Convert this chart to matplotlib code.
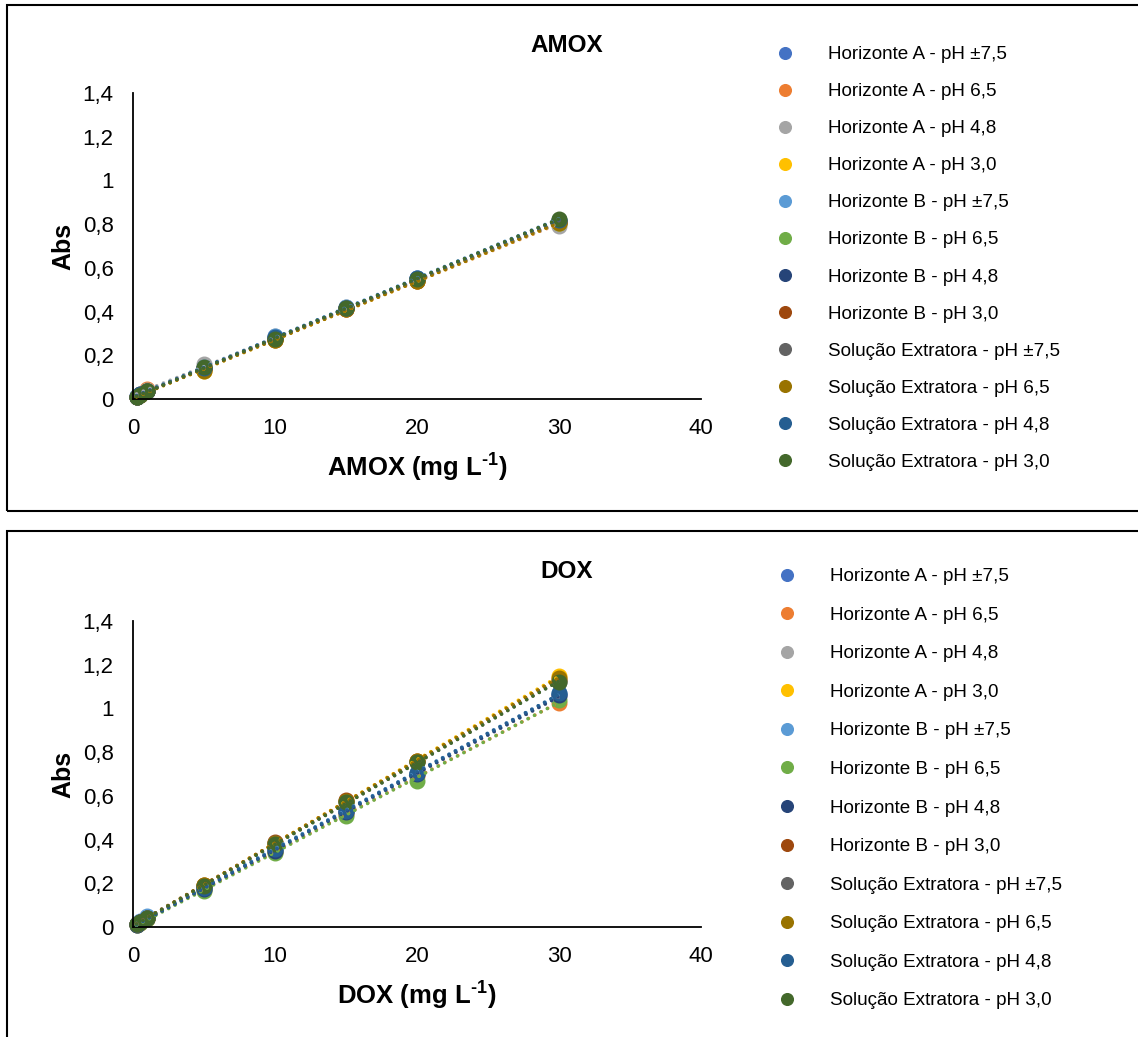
import numpy as np
import matplotlib
matplotlib.use("Agg")
import matplotlib.pyplot as plt
from matplotlib.patches import Rectangle
from matplotlib.ticker import FuncFormatter, MultipleLocator

plt.rcParams['font.family'] = ['Liberation Sans', 'DejaVu Sans']
plt.rcParams['mathtext.fontset'] = 'custom'
plt.rcParams['mathtext.rm'] = 'Liberation Sans:bold'
plt.rcParams['mathtext.default'] = 'rm'

# concentracoes (mg/L)
conc = [0.25, 0.5, 1, 5, 10, 15, 20, 30]

labels = [
    'Horizonte A - pH ±7,5', 'Horizonte A - pH 6,5', 'Horizonte A - pH 4,8', 'Horizonte A - pH 3,0',
    'Horizonte B - pH ±7,5', 'Horizonte B - pH 6,5', 'Horizonte B - pH 4,8', 'Horizonte B - pH 3,0',
    'Solução Extratora - pH ±7,5', 'Solução Extratora - pH 6,5', 'Solução Extratora - pH 4,8',
    'Solução Extratora - pH 3,0',
]
colors = ['#4472C4', '#ED7D31', '#A5A5A5', '#FFC000', '#5B9BD5', '#70AD47',
          '#264478', '#9E480E', '#636363', '#997300', '#255E91', '#43682B']

amox = [
    [0.012, 0.020, 0.035, 0.140, 0.285, 0.415, 0.555, 0.815],
    [0.010, 0.022, 0.045, 0.135, 0.275, 0.410, 0.540, 0.800],
    [0.012, 0.020, 0.040, 0.160, 0.290, 0.420, 0.550, 0.790],
    [0.010, 0.018, 0.035, 0.130, 0.270, 0.410, 0.540, 0.805],
    [0.012, 0.020, 0.038, 0.145, 0.290, 0.420, 0.555, 0.820],
    [0.010, 0.020, 0.036, 0.140, 0.275, 0.415, 0.545, 0.805],
    [0.011, 0.021, 0.037, 0.142, 0.280, 0.418, 0.550, 0.815],
    [0.010, 0.020, 0.036, 0.135, 0.272, 0.412, 0.540, 0.810],
    [0.011, 0.020, 0.037, 0.140, 0.278, 0.415, 0.548, 0.812],
    [0.010, 0.019, 0.035, 0.130, 0.270, 0.410, 0.540, 0.805],
    [0.011, 0.021, 0.037, 0.142, 0.282, 0.418, 0.552, 0.818],
    [0.010, 0.020, 0.035, 0.145, 0.275, 0.415, 0.550, 0.825],
]

dox = [
    [0.012, 0.022, 0.040, 0.175, 0.350, 0.525, 0.700, 1.060],
    [0.010, 0.020, 0.038, 0.170, 0.345, 0.515, 0.690, 1.025],
    [0.011, 0.021, 0.040, 0.175, 0.350, 0.525, 0.705, 1.055],
    [0.012, 0.022, 0.042, 0.190, 0.385, 0.575, 0.760, 1.150],
    [0.015, 0.028, 0.050, 0.180, 0.355, 0.530, 0.705, 1.070],
    [0.010, 0.020, 0.036, 0.165, 0.340, 0.510, 0.670, 1.040],
    [0.011, 0.021, 0.040, 0.175, 0.350, 0.525, 0.700, 1.060],
    [0.012, 0.022, 0.042, 0.190, 0.390, 0.580, 0.760, 1.130],
    [0.012, 0.022, 0.042, 0.188, 0.385, 0.570, 0.755, 1.120],
    [0.012, 0.023, 0.043, 0.190, 0.385, 0.575, 0.760, 1.140],
    [0.012, 0.022, 0.041, 0.178, 0.355, 0.530, 0.705, 1.070],
    [0.012, 0.022, 0.042, 0.188, 0.380, 0.570, 0.755, 1.120],
]


def comma(v, pos):
    return ('%g' % round(v, 2)).replace('.', ',')


def panel(ax, data, name, title_y, leg_x, leg_y, leg_sp):
    x = np.array(conc)
    for i in range(len(data)):
        y = np.array(data[i])
        ax.plot(x, y, 'o', color=colors[i], ms=10.5, label=labels[i], zorder=2, clip_on=False)
    for i in range(len(data)):
        y = np.array(data[i])
        a, b = np.polyfit(x, y, 1)
        xx = np.array([x.min(), x.max()])
        ax.plot(xx, a * xx + b, color=colors[i], lw=2.6, linestyle=(0, (0.01, 2.0)),
                dash_capstyle='round', zorder=3)
    ax.set_xlim(0, 40)
    ax.set_ylim(0, 1.4)
    ax.xaxis.set_major_locator(MultipleLocator(10))
    ax.yaxis.set_major_locator(MultipleLocator(0.2))
    ax.yaxis.set_major_formatter(FuncFormatter(comma))
    ax.tick_params(length=0, labelsize=16, pad=14)
    ax.tick_params(axis='y', pad=14)
    for s in ['top', 'right']:
        ax.spines[s].set_visible(False)
    for s in ['left', 'bottom']:
        ax.spines[s].set_linewidth(1.3)
    ax.set_xlabel(name + r' (mg L$^{\text{-}1}$)', fontsize=18.5, fontweight='bold', labelpad=9)
    ax.set_ylabel('Abs', fontsize=18, fontweight='bold', labelpad=5)
    fig.text(567 / 1138, 1 - title_y / 1037, name, fontsize=17.5, fontweight='bold',
             ha='center', va='center')
    handles, labs = ax.get_legend_handles_labels()
    fig.legend(handles, labs, loc='upper left',
               bbox_to_anchor=(leg_x / 1138, 1 - leg_y / 1037),
               frameon=False, fontsize=13.6, markerscale=0.8, handlelength=1.0,
               handletextpad=1.75, labelspacing=leg_sp, borderpad=0, borderaxespad=0)


fig = plt.figure(figsize=(11.38, 10.37), dpi=100)

# caixas dos graficos
fig.patches.append(Rectangle((7 / 1138, 1 - 511 / 1037), 1.2, (511 - 5) / 1037,
                             transform=fig.transFigure, fill=False, lw=1.5, ec='black'))
fig.patches.append(Rectangle((7 / 1138, -0.05), 1.2, 1 - 531 / 1037 + 0.05,
                             transform=fig.transFigure, fill=False, lw=1.5, ec='black'))

ax1 = fig.add_axes([133 / 1138, 1 - 399 / 1037, 568 / 1138, 306 / 1037])
panel(ax1, amox, 'AMOX', 45, 776, 46, 1.05)

ax2 = fig.add_axes([133 / 1138, 1 - 927 / 1037, 568 / 1138, 306 / 1037])
panel(ax2, dox, 'DOX', 572, 778, 568, 1.13)

fig.savefig('out.png', dpi=100)
